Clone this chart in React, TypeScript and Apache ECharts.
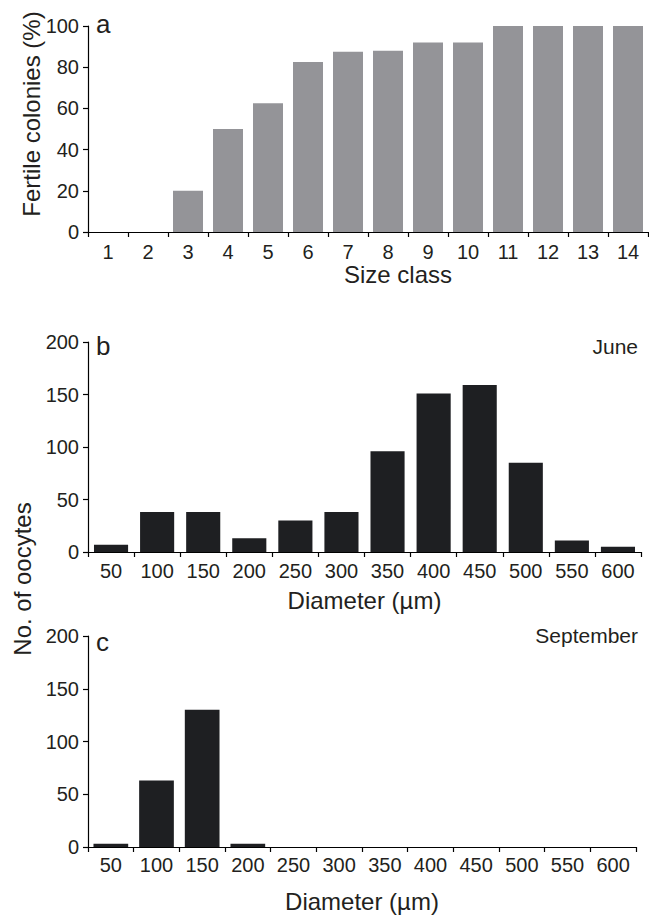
import React, { useEffect, useRef } from "react";
import * as echarts from "echarts";

const sizeClasses = ["1", "2", "3", "4", "5", "6", "7", "8", "9", "10", "11", "12", "13", "14"];
const fertilePct = [0, 0, 20, 50, 62.5, 82.5, 87.5, 88, 92, 92, 100, 100, 100, 100];
const diameterBins = ["50", "100", "150", "200", "250", "300", "350", "400", "450", "500", "550", "600"];
const juneCounts = [7, 38, 38, 13, 30, 38, 96, 151, 159, 85, 11, 5];
const septCounts = [3, 63, 130, 3, 0, 0, 0, 0, 0, 0, 0, 0];

const FONT = "'Liberation Sans', Arial, Helvetica, sans-serif";
const TXT = "#231f20";

function xAxisCfg(grid: number, data: string[], name: string, labelMargin: number, nameGap: number, namePad: number[]) {
  return {
    type: "category",
    gridIndex: grid,
    data,
    boundaryGap: true,
    axisLine: { show: true, lineStyle: { color: "#000", width: 1.2 } },
    axisTick: { show: true, length: 5, inside: false, alignWithLabel: false, lineStyle: { color: "#000", width: 1.2 } },
    axisLabel: { fontSize: 20, color: TXT, fontFamily: FONT, margin: labelMargin, interval: 0 },
    splitLine: { show: false },
    name,
    nameLocation: "middle",
    nameGap,
    nameTextStyle: { fontSize: 24, color: TXT, fontFamily: FONT, padding: namePad },
  };
}

function yAxisCfg(grid: number, max: number, interval: number) {
  return {
    type: "value",
    gridIndex: grid,
    min: 0,
    max,
    interval,
    axisLine: { show: true, lineStyle: { color: "#000", width: 1.2 } },
    axisTick: { show: true, length: 5, inside: false, lineStyle: { color: "#000", width: 1.2 } },
    axisLabel: { fontSize: 20, color: TXT, fontFamily: FONT, margin: 9 },
    splitLine: { show: false },
  };
}

export default function App() {
  const ref = useRef<HTMLDivElement>(null);
  useEffect(() => {
    if (!ref.current) return;
    const chart = echarts.init(ref.current, null, { renderer: "svg" });
    const option: any = {
      animation: false,
      backgroundColor: "#fff",
      grid: [
        { left: 88, top: 26, width: 560, height: 206 },
        { left: 88, top: 342, width: 553, height: 210 },
        { left: 88, top: 636, width: 548, height: 211 },
      ],
      xAxis: [
        xAxisCfg(0, sizeClasses, "Size class", 10, 30, [0, 0, 0, 60]),
        xAxisCfg(1, diameterBins, "Diameter (µm)", 9, 36, [0, 0, 0, 0]),
        xAxisCfg(2, diameterBins, "Diameter (µm)", 8, 42, [0, 0, 0, 0]),
      ],
      yAxis: [yAxisCfg(0, 100, 20), yAxisCfg(1, 200, 50), yAxisCfg(2, 200, 50)],
      series: [
        { type: "bar", xAxisIndex: 0, yAxisIndex: 0, data: fertilePct, barWidth: "75%", itemStyle: { color: "#949498" } },
        { type: "bar", xAxisIndex: 1, yAxisIndex: 1, data: juneCounts, barWidth: "74%", itemStyle: { color: "#1e1f22" } },
        { type: "bar", xAxisIndex: 2, yAxisIndex: 2, data: septCounts, barWidth: "76%", itemStyle: { color: "#1e1f22" } },
      ],
      graphic: [
        {
          type: "text", x: 31, y: 114, rotation: Math.PI / 2,
          style: { text: "Fertile colonies (%)", font: `24px ${FONT}`, fill: TXT, textAlign: "center", textVerticalAlign: "middle" },
        },
        {
          type: "text", x: 22, y: 579, rotation: Math.PI / 2,
          style: { text: "No. of oocytes", font: `24px ${FONT}`, fill: TXT, textAlign: "center", textVerticalAlign: "middle" },
        },
        { type: "text", x: 96, y: 24, style: { text: "a", font: `26px ${FONT}`, fill: TXT, textAlign: "left", textVerticalAlign: "middle" } },
        { type: "text", x: 96, y: 346, style: { text: "b", font: `26px ${FONT}`, fill: TXT, textAlign: "left", textVerticalAlign: "middle" } },
        { type: "text", x: 96, y: 642, style: { text: "c", font: `26px ${FONT}`, fill: TXT, textAlign: "left", textVerticalAlign: "middle" } },
        { type: "text", x: 638, y: 346, style: { text: "June", font: `21px ${FONT}`, fill: TXT, textAlign: "right", textVerticalAlign: "middle" } },
        { type: "text", x: 638, y: 635, style: { text: "September", font: `21px ${FONT}`, fill: TXT, textAlign: "right", textVerticalAlign: "middle" } },
      ],
    };
    chart.setOption(option);
    return () => chart.dispose();
  }, []);
  return <div ref={ref} style={{ position: "absolute", left: 0, top: 0, width: 649, height: 918 }} />;
}
